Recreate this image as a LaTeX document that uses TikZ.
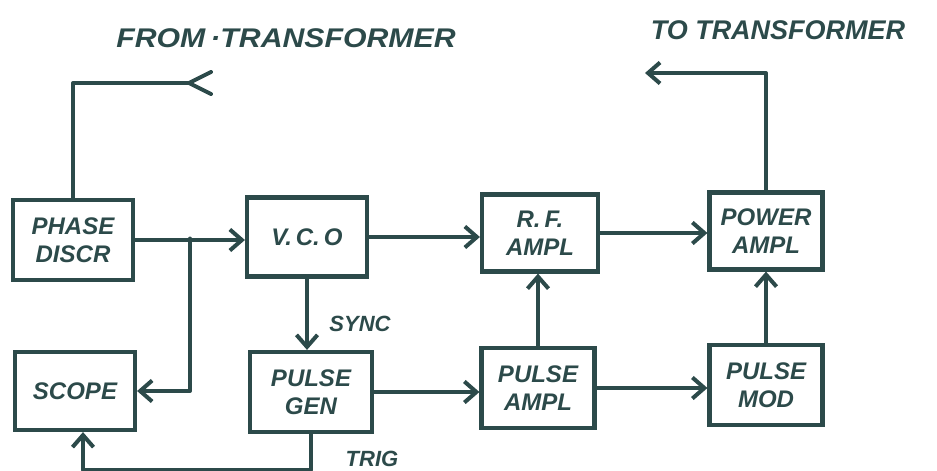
\documentclass[tikz,border=0pt]{standalone}
\usepackage{fontspec}
\setmainfont{Liberation Sans}
\usetikzlibrary{arrows.meta,calc}
\definecolor{ink}{RGB}{44,74,74}
\tikzset{
  blk/.style={draw=ink, line width=4.2pt, minimum width=#1, inner sep=0pt, align=center, text=ink,
     font=\fontsize{24}{28}\selectfont\bfseries\itshape},
  conn/.style={draw=ink, line width=4pt, line cap=round, line join=round},
  tip/.style={-{Straight Barb[length=12pt,width=21pt]}},
  lbl/.style={text=ink, font=\fontsize{22}{26}\selectfont\bfseries\itshape, inner sep=0pt},
  toplbl/.style={text=ink, font=\fontsize{27}{30}\selectfont\bfseries\itshape, inner sep=0pt},
}
\begin{document}
\begin{tikzpicture}[x=1pt,y=-1pt]
\useasboundingbox (0,0) rectangle (937,471);
\node[blk=120pt, minimum height=80pt] (phase) at (73,240) {PHASE\\DISCR};
\node[blk=120pt, minimum height=79pt] (vco) at (307,237) {V.\,C.\,O};
\node[blk=116pt, minimum height=77pt] (rf) at (540,233) {R.\,F.\\AMPL};
\node[blk=113pt, minimum height=77pt] (power) at (766,231) {POWER\\AMPL};
\node[blk=120pt, minimum height=78pt] (scope) at (75,391) {SCOPE};
\node[blk=122pt, minimum height=80pt] (pgen) at (311,392) {PULSE\\GEN};
\node[blk=113pt, minimum height=80pt] (pampl) at (538,388) {PULSE\\AMPL};
\node[blk=113pt, minimum height=80pt] (pmod) at (766,385) {PULSE\\MOD};

\node[toplbl] (from) at (286,38) {\scalebox{1.12}[1]{FROM\,·TRANSFORMER}};
\node[toplbl] (to) at (778,30) {TO TRANSFORMER};
\node[lbl] (sync) at (360,324) {SYNC};
\node[lbl] (trig) at (372,459) {TRIG};

\coordinate (fromv) at (189,83);
\coordinate (fromarmA) at (211,72);
\coordinate (fromarmB) at (211,94);
\coordinate (toend) at (645,73);
\coordinate (br) at ($(phase.east)!0.5!(vco.west)$);
\coordinate (trigc) at ($(pgen.south)+(0,36)$);

\draw[conn] (phase.north) |- (fromv);
\draw[conn] (fromarmA) -- (fromv) -- (fromarmB);
\draw[conn, tip] (power.north) |- (toend);
\draw[conn, tip] (phase.east) -- (phase.east -| vco.west);
\draw[conn, tip] (br) |- (scope.east);
\draw[conn, tip] (vco.south) -- (vco.south |- pgen.north);
\draw[conn, tip] (pgen.south) -- (trigc) -| ($(scope.south)+(8,0)$);
\draw[conn, tip] (vco.east) -- (vco.east -| rf.west);
\draw[conn, tip] (rf.east) -- (rf.east -| power.west);
\draw[conn, tip] (pgen.east) -- (pgen.east -| pampl.west);
\draw[conn, tip] (pampl.east) -- (pampl.east -| pmod.west);
\draw[conn, tip] (pampl.north) -- (pampl.north |- rf.south);
\draw[conn, tip] (pmod.north) -- (pmod.north |- power.south);
\end{tikzpicture}
\end{document}
